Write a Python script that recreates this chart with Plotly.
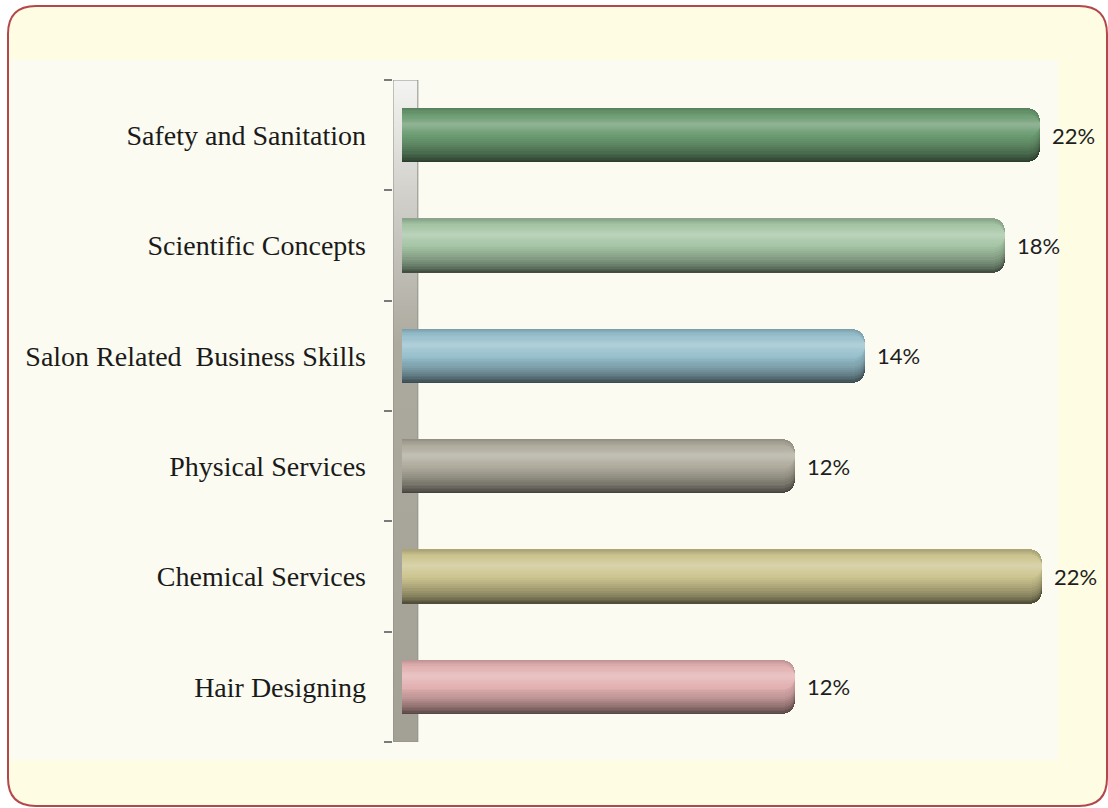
import plotly.graph_objects as go

# ---------------- data ----------------
categories = ["Safety and Sanitation", "Scientific Concepts", "Salon Related  Business Skills",
              "Physical Services", "Chemical Services", "Hair Designing"]
pct_labels = ["22%", "18%", "14%", "12%", "22%", "12%"]
bar_lengths = [19.33, 18.27, 14.03, 11.91, 19.39, 11.91]   # drawn bar lengths (percent units)
bar_colors = ["#6a9a70", "#a4c4a4", "#96bfcc", "#aeaa9c", "#ccc48f", "#e2b0b0"]

# ---------------- geometry ----------------
W, H = 1108, 808
L, R, T, B = 393, 33, 80, 66
PW, PH = W - L - R, H - T - B
UNIT = 33.0
XMIN = -9 / UNIT
XMAX = XMIN + PW / UNIT


def px(X):
    return (X - L) / PW


def py(Y):
    return (H - B - Y) / PH


def shade(hexc, f):
    c = [int(hexc[i:i + 2], 16) for i in (1, 3, 5)]
    if f <= 1:
        c = [v * f for v in c]
    else:
        c = [v + (255 - v) * (f - 1) for v in c]
    return "#%02x%02x%02x" % tuple(int(max(0, min(255, round(v)))) for v in c)


fig = go.Figure()

# axis wall (3D-ish) on base subplot
fig.add_trace(go.Scatter(
    x=[XMIN, 0.48, 0.48, XMIN, XMIN], y=[0, 0, 1, 1, 0], xaxis="x", yaxis="y",
    mode="lines", fill="toself", line=dict(color="#8e8e8a", width=1),
    fillgradient=dict(type="vertical",
                      colorscale=[[0, "#a3a095"], [0.6, "#aca99e"], [0.82, "#d0cfca"], [1, "#f4f4f2"]]),
    hoverinfo="skip", showlegend=False))

# cylinder bars as nested rounded layers (overlay subplot, drawn above wall)
BW = 0.49
key_layers = [(0.00, 1.00, 0.40), (0.00, 0.93, 0.56), (0.00, 0.84, 0.70), (0.00, 0.72, 0.84),
              (0.06, 0.60, 0.94), (0.13, 0.50, 1.03), (0.20, 0.42, 1.11), (0.25, 0.36, 1.19),
              (0.28, 0.32, 1.24)]
layers = []
SUB = 3
for a, b in zip(key_layers[:-1], key_layers[1:]):
    for s in range(SUB):
        u = s / SUB
        layers.append(tuple(a[k] + (b[k] - a[k]) * u for k in range(3)))
layers.append(key_layers[-1])

for ft, fb, f in layers:
    thick_px = (fb - ft) * BW * 110.3
    fig.add_trace(go.Bar(
        y=categories, x=bar_lengths, orientation="h", xaxis="x2", yaxis="y2",
        width=(fb - ft) * BW, offset=BW / 2 - fb * BW,
        marker=dict(color=[shade(c, f) for c in bar_colors], line=dict(width=0),
                    cornerradius=min(13, thick_px / 2)),
        hoverinfo="skip", showlegend=False))

# value labels
for cat, v, t in zip(categories, bar_lengths, pct_labels):
    fig.add_annotation(x=v, y=cat, xref="x2", yref="y2", text=t, showarrow=False,
                       xanchor="left", xshift=10,
                       font=dict(family="Lato, Liberation Sans, sans-serif", size=22, color="#1e1e1e"))

# frame
r = 28
x0, y0, x1, y1 = 8, 6, 1107, 806
path = (f"M {px(x0)},{py(y0 + r)} Q {px(x0)},{py(y0)} {px(x0 + r)},{py(y0)} "
        f"L {px(x1 - r)},{py(y0)} Q {px(x1)},{py(y0)} {px(x1)},{py(y0 + r)} "
        f"L {px(x1)},{py(y1 - r)} Q {px(x1)},{py(y1)} {px(x1 - r)},{py(y1)} "
        f"L {px(x0 + r)},{py(y1)} Q {px(x0)},{py(y1)} {px(x0)},{py(y1 - r)} Z")
shapes = [
    dict(type="path", path=path, xref="paper", yref="paper", layer="below",
         fillcolor="#fefce2", line=dict(color="#b4474b", width=2)),
    dict(type="rect", xref="paper", yref="paper", x0=px(10), x1=px(1058), y0=py(760), y1=py(60),
         layer="below", fillcolor="#fbfbf1", line=dict(width=0)),
]

fig.update_layout(
    width=W, height=H, margin=dict(l=L, r=R, t=T, b=B, pad=0),
    paper_bgcolor="#ffffff", plot_bgcolor="rgba(0,0,0,0)",
    barmode="overlay", bargap=0, showlegend=False, shapes=shapes,
    xaxis=dict(range=[XMIN, XMAX], visible=False, fixedrange=True),
    yaxis=dict(range=[0, 1], visible=False, fixedrange=True),
    xaxis2=dict(range=[XMIN, XMAX], visible=False, fixedrange=True, overlaying="x"),
    yaxis2=dict(type="category", categoryorder="array", categoryarray=list(reversed(categories)),
                overlaying="y", side="left",
                range=[-0.5, 5.5], tickson="boundaries", ticks="outside", ticklen=8,
                tickcolor="#7a7a7a", tickwidth=1.5, showgrid=False, zeroline=False,
                showline=False, ticklabelstandoff=26,
                tickfont=dict(family="Liberation Serif, Times New Roman, serif", size=28, color="#1a1a1a")),
)

fig.write_html("out.html", config={"displayModeBar": False},
               post_script="document.body.style.margin='0';document.body.style.padding='0';")
